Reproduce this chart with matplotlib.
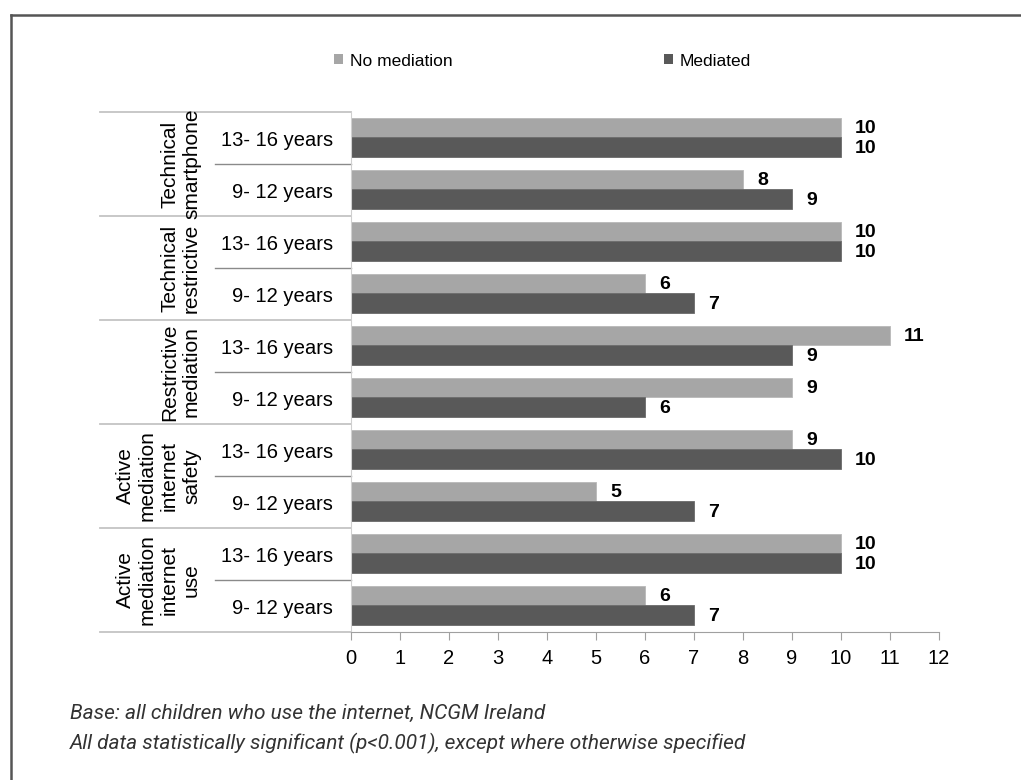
import numpy as np
import matplotlib
matplotlib.use("Agg")
import matplotlib.pyplot as plt
from matplotlib.lines import Line2D
from matplotlib.patches import Patch
import matplotlib.transforms as mtransforms

plt.rcParams['font.family'] = ['Liberation Sans', 'DejaVu Sans']

# Dados
groups = ["Technical\nsmartphone", "Technical\nrestrictive", "Restrictive\nmediation",
          "Active\nmediation\ninternet\nsafety", "Active\nmediation\ninternet\nuse"]
ages = ["13- 16 years", "9- 12 years"]
no_mediation = [10, 8, 10, 6, 11, 9, 9, 5, 10, 6]
mediated = [10, 9, 10, 7, 9, 6, 10, 7, 10, 7]
x_ticks = list(range(0, 13))
notes = ["Base: all children who use the internet, NCGM Ireland",
         "All data statistically significant (p<0.001), except where otherwise specified"]

c_light = "#a6a6a6"
c_dark = "#595959"

W, H = 1021, 780
fig = plt.figure(figsize=(W / 100, H / 100), dpi=100)
ax = fig.add_axes([351 / W, 1 - 632 / H, 588 / W, 520 / H])

rows = np.arange(len(no_mediation))
bh = 0.375
ax.barh(rows - bh / 2 - 0.01, no_mediation, height=bh, color=c_light, edgecolor="#b8b8b8", linewidth=0.6)
ax.barh(rows + bh / 2 - 0.01, mediated, height=bh, color=c_dark, edgecolor="#6a6a6a", linewidth=0.6)

for i, (a, b) in enumerate(zip(no_mediation, mediated)):
    ax.annotate(str(a), (a, i - bh / 2), xytext=(10, 0), textcoords="offset points",
                va="center", ha="left", fontsize=14, fontweight="bold")
    ax.annotate(str(b), (b, i + bh / 2 + 0.02), xytext=(10, 0), textcoords="offset points",
                va="center", ha="left", fontsize=14, fontweight="bold")

ax.set_xlim(0, 12)
ax.set_ylim(len(rows) - 0.5, -0.5)
ax.set_xticks(x_ticks)
ax.set_xticklabels([str(t) for t in x_ticks], fontsize=14.5)
ax.set_yticks(rows)
ax.set_yticklabels(ages * len(groups), fontsize=14.5)
ax.tick_params(axis="y", length=0, pad=13)
ax.tick_params(axis="x", length=6, color="#a0a0a0", direction="out", pad=6)

for s in ["top", "right"]:
    ax.spines[s].set_visible(False)
ax.spines["left"].set_color("#d0d0d0")
ax.spines["bottom"].set_color("#a0a0a0")

# Separadores à esquerda
trans = mtransforms.blended_transform_factory(ax.transAxes, ax.transData)
x_full = (100 - 351) / 588
x_sub = (215 - 351) / 588
for k in range(len(groups) + 1):
    yb = 2 * k - 0.5
    ax.add_line(Line2D([x_full, 0], [yb, yb], transform=trans, color="#c4c4c4",
                       linewidth=1.3, clip_on=False))
    if k < len(groups):
        ax.add_line(Line2D([x_sub, 0], [yb + 1, yb + 1], transform=trans, color="#8a8a8a",
                           linewidth=1.0, clip_on=False))
        ax.text((201 - 351) / 588, 2 * k + 0.5, groups[k], transform=trans, rotation=90,
                ha="right", va="center", multialignment="center", fontsize=15, linespacing=1.2)

# Legenda
handles = [Patch(facecolor=c_light, edgecolor="none", label="No mediation"),
           Patch(facecolor=c_dark, edgecolor="none", label="Mediated")]
fig.legend(handles=handles, loc="center left", bbox_to_anchor=(334 / W, 1 - 61 / H),
           ncol=2, frameon=False, fontsize=12.5, handlelength=0.5, handleheight=0.5,
           handletextpad=0.4, columnspacing=12.2, borderpad=0, borderaxespad=0)

# Moldura
fig.add_artist(Line2D([11 / W, 11 / W], [0, 1 - 15 / H], color="#555555", linewidth=1.8))
fig.add_artist(Line2D([11 / W, 1], [1 - 15 / H, 1 - 15 / H], color="#555555", linewidth=1.8))

# Notas
for j, note in enumerate(notes):
    fig.text(70 / W, 1 - (713 + 30 * j) / H, note, fontsize=15, style="italic",
             family=["Roboto", "DejaVu Sans"], color="#333333", va="center", ha="left")

fig.savefig("out.png", dpi=100)
